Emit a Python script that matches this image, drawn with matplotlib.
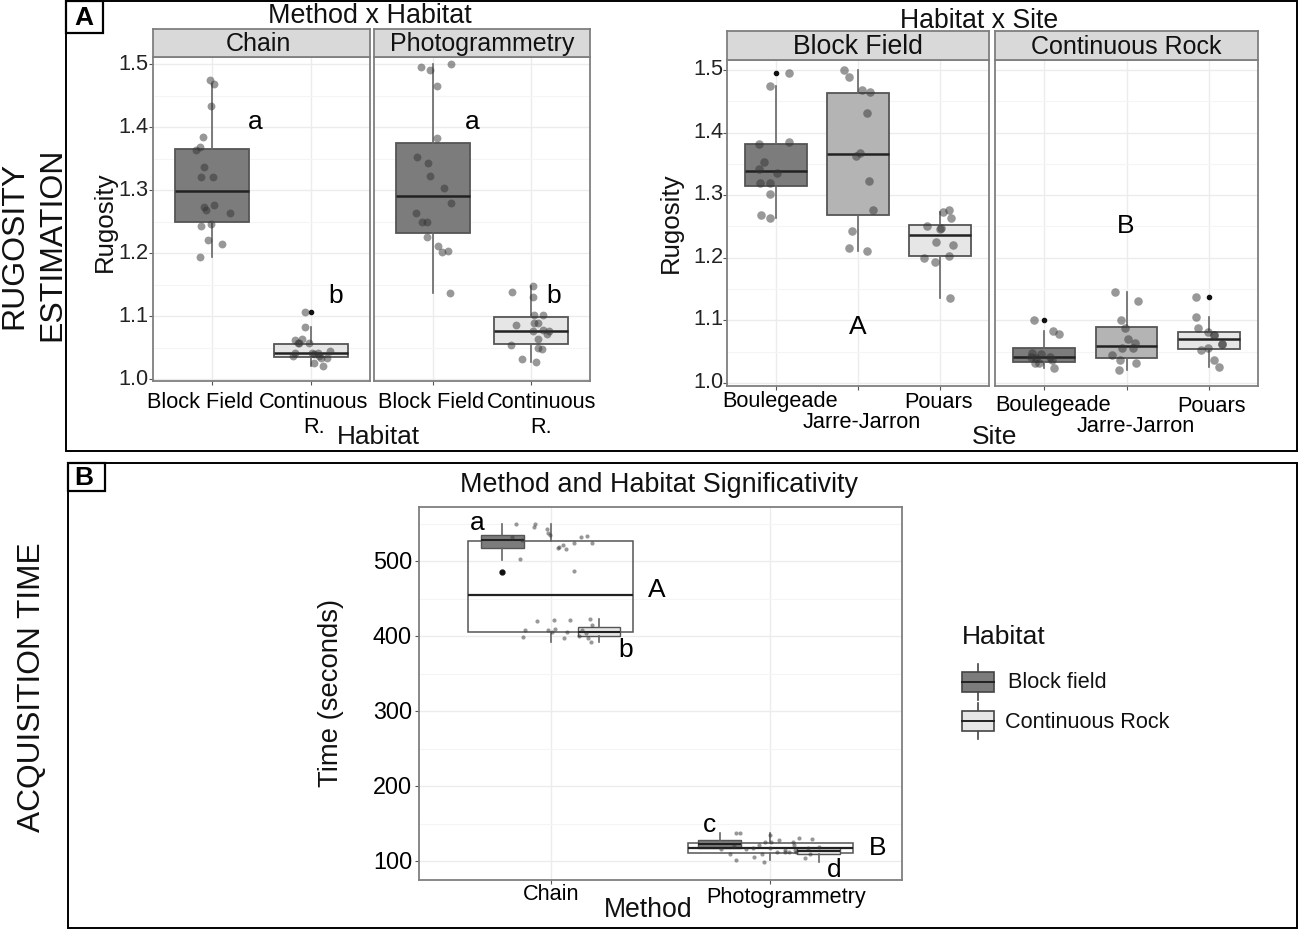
import matplotlib
matplotlib.use('Agg')
import matplotlib.pyplot as plt
from matplotlib.patches import Rectangle
from matplotlib.transforms import ScaledTranslation

plt.rcParams['font.family'] = ['Liberation Sans', 'DejaVu Sans']

W, H = 1300, 931

# ---- panel A, method x habitat: jitter position and rugosity of each point
chain_bf_x = [.973, 1.02, .986, .908, .875, .837, .922, .885, 1.007, 1.02, .915, .942, 1.176, .885, .986, .959, 1.102, .878]
chain_bf_y = [1.475, 1.468, 1.433, 1.385, 1.368, 1.363, 1.336, 1.321, 1.321, 1.276, 1.273, 1.268, 1.263, 1.243, 1.246, 1.221, 1.215, 1.193]
chain_cr_x = [1.942, 1.936, 1.912, 1.844, 1.871, 1.885, 1.98, 1.841, 1.82, 2.19, 2.014, 2.071, 2.037, 2.081, 2.108, 2.166, 2.03, 2.122]
chain_cr_y = [1.106, 1.082, 1.064, 1.062, 1.057, 1.057, 1.057, 1.041, 1.037, 1.044, 1.042, 1.042, 1.039, 1.036, 1.034, 1.034, 1.025, 1.021]
photo_bf_x = [.875, .966, 1.183, 1.041, 1.041, .837, .949, .973, 1.115, 1.183, .831, .892, .942, .936, 1.047, 1.092, 1.153, 1.176]
photo_bf_y = [1.495, 1.491, 1.5, 1.465, 1.383, 1.353, 1.343, 1.323, 1.303, 1.279, 1.263, 1.25, 1.249, 1.226, 1.211, 1.202, 1.204, 1.136]
photo_cr_x = [1.807, 2.017, 2.024, 2.03, 2.122, 2.03, 2.075, 1.844, 2.024, 2.122, 2.18, 2.163, 2.075, 1.8, 2.075, 2.112, 1.908, 2.051]
photo_cr_y = [1.138, 1.147, 1.131, 1.102, 1.102, 1.089, 1.089, 1.085, 1.076, 1.078, 1.076, 1.072, 1.064, 1.054, 1.049, 1.047, 1.032, 1.027]

# whislo, q1, median, q3, whishi, outliers
chain_bf_box = [1.194, 1.25, 1.299, 1.366, 1.468, []]
chain_cr_box = [1.021, 1.035, 1.041, 1.055, 1.082, [1.106]]
photo_bf_box = [1.136, 1.232, 1.291, 1.375, 1.5, []]
photo_cr_box = [1.027, 1.056, 1.077, 1.098, 1.147, []]

# ---- panel A, habitat x site
bf_x = [1.153, .93, 1.163, .795, .847, .795, 1.005, .805, .93, .93, .819, .93,
        1.823, 1.888, 2.05, 2.149, 2.116, 2.023, 1.981, 2.14, 2.181, 1.93, 1.888, 2.116,
        3.042, 3.116, 3.135, 2.842, 3.005, 3.014, 2.949, 3.158, 2.809, 3.107, 2.94, 3.126]
bf_y = [1.495, 1.474, 1.385, 1.381, 1.353, 1.342, 1.335, 1.32, 1.32, 1.302, 1.268, 1.263,
        1.5, 1.489, 1.468, 1.465, 1.431, 1.367, 1.363, 1.323, 1.277, 1.243, 1.215, 1.211,
        1.273, 1.276, 1.263, 1.251, 1.246, 1.248, 1.225, 1.22, 1.2, 1.203, 1.193, 1.135]
cr_x = [.87, 1.102, 1.181, .856, .963, .842, .902, 1.065, 1.088, .884, .94, 1.112,
        1.865, 2.14, 1.93, 1.981, 2.014, 2.102, 1.949, 2.079, 1.823, 1.921, 2.121, 1.907,
        2.851, 2.851, 2.87, 2.986, 3.06, 3.06, 3.163, 3.163, 2.902, 2.986, 3.07, 3.121]
cr_y = [1.1, 1.083, 1.078, 1.048, 1.046, 1.041, 1.04, 1.041, 1.036, 1.031, 1.031, 1.023,
        1.146, 1.131, 1.1, 1.088, 1.07, 1.064, 1.056, 1.056, 1.044, 1.036, 1.032, 1.02,
        1.138, 1.106, 1.088, 1.081, 1.076, 1.076, 1.062, 1.062, 1.053, 1.056, 1.036, 1.026]

bf_boxes = [[1.263, 1.315, 1.339, 1.382, 1.474, [1.495]],
            [1.211, 1.268, 1.366, 1.464, 1.5, []],
            [1.135, 1.202, 1.236, 1.253, 1.273, []]]
cr_boxes = [[1.023, 1.033, 1.041, 1.055, 1.083, [1.1]],
            [1.02, 1.04, 1.059, 1.09, 1.146, []],
            [1.026, 1.054, 1.07, 1.082, 1.106, [1.137]]]

# ---- panel B, acquisition time
chain_time_bf_x = [.842, .923, .93, .982, .988, .998, .823, .867, .861, 1.033, 1.036, 1.056, 1.068, 1.104, 1.139, 1.164, 1.19, 1.108]
chain_time_bf_y = [549, 546, 550, 543, 537, 535, 532, 528, 503, 518, 519, 521, 516, 524, 532, 533, 524, 487]
chain_time_cr_x = [.872, .882, .938, .988, 1.006, 1.016, 1.021, 1.075, 1.086, 1.06, 1.131, 1.142, 1.161, 1.17, 1.179, 1.19, 1.182]
chain_time_cr_y = [399, 408, 420, 408, 405, 421, 409, 406, 422, 397, 400, 408, 404, 398, 423, 415, 392]
photo_time_x = [1.777, 1.843, 1.864, 1.816, 1.846, 1.834, 1.891, 1.922, 1.925, 1.947, 1.962, 1.973, 1.977, 2.0, 2.003, 2.0,
                2.032, 2.042, 2.065, 2.068, 2.087, 2.103, 2.11, 2.113, 2.118, 2.131, 2.157, 2.173, 2.179, 2.189, 2.222]
photo_time_y = [116.5, 137, 137, 110, 101, 120, 116.5, 118, 106, 122, 109.5, 99, 125, 135, 126, 118,
                112, 128, 115, 112, 112.5, 125, 121, 115, 112, 131, 104, 117, 110, 129.5, 119]

method_boxes = [[392, 405, 455, 527, 549, []], [101, 111, 118, 124, 137, []]]
method_bf_boxes = [[502, 518, 528, 535, 549, [485]], [118, 118, 123, 128, 137, []]]
method_cr_boxes = [[392, 400, 405, 412, 423, []], [99, 109, 113, 117, 117, []]]

habitat_labels = ['Block Field', 'Continuous\nR.']
site_labels = ['Boulegeade', 'Jarre-Jarron', 'Pouars']
rug_ticks = [1.0, 1.1, 1.2, 1.3, 1.4, 1.5]
rug_minor = [1.05, 1.15, 1.25, 1.35, 1.45]
time_ticks = [100, 200, 300, 400, 500]
time_minor = [150, 250, 350, 450, 550]

DARK, MID, LIGHT = '#7c7c7c', '#b4b4b4', '#e6e6e6'
BORDER = '#7f7f7f'

fig = plt.figure(figsize=(W / 100, H / 100), dpi=100)


def px_axes(l, t, r, b, **kw):
    return fig.add_axes([l / W, 1 - b / H, (r - l) / W, (b - t) / H], **kw)


def draw_boxes(ax, boxes, positions, width, colors, lw=1.3, flier=3.5):
    for box, pos, col in zip(boxes, positions, colors):
        st = dict(whislo=box[0], q1=box[1], med=box[2], q3=box[3], whishi=box[4], fliers=box[5])
        ax.bxp([st], positions=[pos], widths=width, patch_artist=True, manage_ticks=False,
               showcaps=False,
               boxprops=dict(facecolor=col, edgecolor='#555555', linewidth=lw),
               medianprops=dict(color='#222222', linewidth=lw + .5),
               whiskerprops=dict(color='#666666', linewidth=1.2),
               flierprops=dict(marker='o', markersize=flier, markerfacecolor='#111111',
                               markeredgecolor='#111111'))


def style_panel(ax, xticks, xlabels, yticks, yminor, show_y, size=15.7, spacing=1.25):
    ax.set_facecolor('white')
    ax.set_xticks(xticks)
    ax.set_xticklabels(xlabels, fontsize=size, linespacing=spacing)
    ax.set_yticks(yticks)
    ax.set_yticks(yminor, minor=True)
    ax.grid(True, which='major', color='#ececec', linewidth=1)
    ax.grid(True, which='minor', color='#f5f5f5', linewidth=.8)
    ax.set_axisbelow(True)
    ax.tick_params(axis='x', length=3, color='#555555', pad=6)
    ax.tick_params(axis='y', which='minor', length=0)
    if show_y:
        ax.set_yticklabels(['%.1f' % t for t in yticks], fontsize=size, color='#222222')
        ax.tick_params(axis='y', length=3, color='#555555', pad=2)
    else:
        ax.tick_params(axis='y', which='major', length=0, labelleft=False)
    for s in ax.spines.values():
        s.set_color(BORDER)
        s.set_linewidth(1.3)


def nudge(labels, offsets):
    # the labels were moved by hand in the original figure; offsets in pixels, y upwards
    for lab, (dx, dy) in zip(labels, offsets):
        lab.set_transform(lab.get_transform() + ScaledTranslation(dx / 100, dy / 100, fig.dpi_scale_trans))


def strip(l, t, r, b, label, size=18, xpos=.5):
    st = px_axes(l, t, r, b)
    st.set_facecolor('#d9d9d9')
    st.set_xticks([])
    st.set_yticks([])
    for s in st.spines.values():
        s.set_color(BORDER)
        s.set_linewidth(1.3)
    st.text(xpos, .46, label, ha='center', va='center', fontsize=size, transform=st.transAxes, color='#111111')


def points(ax, x, y, size=32):
    ax.scatter(x, y, s=size, c='#333333', alpha=.5, linewidths=0, zorder=5)


# method x habitat
ax1 = px_axes(153, 57, 370, 381)
ax2 = px_axes(374, 57, 590, 381)
for ax, b1, b2, x1, y1, x2, y2 in [
        (ax1, chain_bf_box, chain_cr_box, chain_bf_x, chain_bf_y, chain_cr_x, chain_cr_y),
        (ax2, photo_bf_box, photo_cr_box, photo_bf_x, photo_bf_y, photo_cr_x, photo_cr_y)]:
    draw_boxes(ax, [b1, b2], [1, 2], .75, [DARK, LIGHT], flier=3)
    points(ax, x1, y1)
    points(ax, x2, y2)
    ax.set_xlim(.4, 2.6)
    ax.set_ylim(.9968, 1.5115)
    style_panel(ax, [1, 2], habitat_labels, rug_ticks, rug_minor, ax is ax1)
nudge(ax1.get_xticklabels(), [(-12, 2), (3, 2)])
nudge(ax2.get_xticklabels(), [(-2, 2), (10, 2)])
nudge(ax1.get_yticklabels(), [(2, 2)] * 6)
strip(153, 29, 370, 57, 'Chain', xpos=.485)
strip(374, 29, 590, 57, 'Photogrammetry')

# habitat x site
ax3 = px_axes(727, 60, 989, 386)
ax4 = px_axes(995, 60, 1258, 386)
draw_boxes(ax3, bf_boxes, [1, 2, 3], .75, [DARK, MID, LIGHT], flier=3)
draw_boxes(ax4, cr_boxes, [1, 2, 3], .75, [DARK, MID, LIGHT], flier=3)
points(ax3, bf_x, bf_y, 38)
points(ax4, cr_x, cr_y, 38)
for ax in (ax3, ax4):
    ax.set_xlim(.4, 3.6)
    ax.set_ylim(.995, 1.516)
    style_panel(ax, [1, 2, 3], site_labels, rug_ticks, rug_minor, ax is ax3)
nudge(ax3.get_xticklabels(), [(4, 7), (4, -14), (-1, 6)])
nudge(ax4.get_xticklabels(), [(9, 4), (9, -18), (3, 3)])
nudge(ax3.get_yticklabels(), [(3, 3)] * 6)
strip(727, 31, 989, 60, 'Block Field', 19.2)
strip(995, 31, 1258, 60, 'Continuous Rock')

# acquisition time
ax5 = px_axes(419, 507, 902, 880)
draw_boxes(ax5, method_boxes, [1, 2], .75, ['none', 'none'], lw=1.1)
draw_boxes(ax5, method_bf_boxes, [.78, 1.77], .195, [DARK, DARK], lw=1, flier=3.5)
draw_boxes(ax5, method_cr_boxes, [1.22, 2.22], .195, [LIGHT, LIGHT], lw=1)
points(ax5, chain_time_bf_x, chain_time_bf_y, 9)
points(ax5, chain_time_cr_x, chain_time_cr_y, 9)
points(ax5, photo_time_x, photo_time_y, 9)
ax5.set_xlim(.4, 2.6)
ax5.set_ylim(74.7, 572)
style_panel(ax5, [1, 2], ['Chain', 'Photogrammetry'], time_ticks, time_minor, False, size=15.6)
ax5.set_yticklabels([str(t) for t in time_ticks], fontsize=16.8)
ax5.tick_params(axis='y', which='major', length=3, color='#555555', labelleft=True, pad=2)
nudge(ax5.get_xticklabels(), [(0, 8), (16, 6)])
nudge(ax5.get_yticklabels(), [(0, 1)] * 5)

# overlay in pixels: frames, tags, titles, letters, legend
ov = fig.add_axes([0, 0, 1, 1], zorder=20)
ov.set_xlim(0, W)
ov.set_ylim(H, 0)
ov.axis('off')
ov.patch.set_alpha(0)

ov.add_patch(Rectangle((66, 1), 1231, 450, fill=False, ec='black', lw=1.4))
ov.add_patch(Rectangle((68, 463), 1229, 465, fill=False, ec='black', lw=1.4))
ov.add_patch(Rectangle((66, 1), 37, 32, fc='white', ec='black', lw=1.6))
ov.add_patch(Rectangle((68, 463), 37, 28, fc='white', ec='black', lw=1.6))


def t(x, y, s, size=15.5, **kw):
    kw.setdefault('ha', 'center')
    kw.setdefault('va', 'center')
    kw.setdefault('color', '#111111')
    ov.text(x, y, s, fontsize=size, **kw)


t(84, 18, 'A', 19, fontweight='bold', color='black')
t(84, 478, 'B', 19, fontweight='bold', color='black')
t(370, 16, 'Method x Habitat', 19.4)
t(979, 21, 'Habitat x Site', 19.2)
t(659, 485, 'Method and Habitat Significativity', 19.4)
t(378, 437, 'Habitat', 18.9)
t(995, 437, 'Site', 19)
t(648, 910, 'Method', 19.2)
t(105, 222, 'Rugosity', 18.6, rotation=90)
t(671, 223, 'Rugosity', 18.6, rotation=90)
t(331, 693, 'Time (seconds)', 19.8, rotation=90)
t(14, 245, 'RUGOSITY', 23, rotation=90)
t(52, 244, 'ESTIMATION', 23, rotation=90)
t(32, 687, 'ACQUISITION TIME', 22.8, rotation=90)

for x, y, s in [(255, 122, 'a'), (472, 122, 'a'), (336, 296, 'b'), (554, 296, 'b'),
                (858, 327, 'A'), (1126, 226, 'B'), (477, 523, 'a'), (626, 650, 'b'),
                (657, 590, 'A'), (710, 825, 'c'), (834, 870, 'd'), (878, 848, 'B')]:
    t(x, y, s, 19, color='black')

# legend
t(962, 637, 'Habitat', 19, ha='left')
for y0, col, label, lx in [(682, DARK, 'Block field', 1008), (721, LIGHT, 'Continuous Rock', 1005)]:
    ov.plot([978, 978], [y0 - 18, y0 + 18], color='#444444', lw=1.2)
    ov.add_patch(Rectangle((962, y0 - 10), 32, 20, fc=col, ec='#444444', lw=1.2, zorder=3))
    ov.plot([962, 994], [y0, y0], color='#222222', lw=1.4, zorder=4)
    t(lx, y0 + 1, label, 15.6, ha='left')

fig.savefig('out.png', dpi=100)
